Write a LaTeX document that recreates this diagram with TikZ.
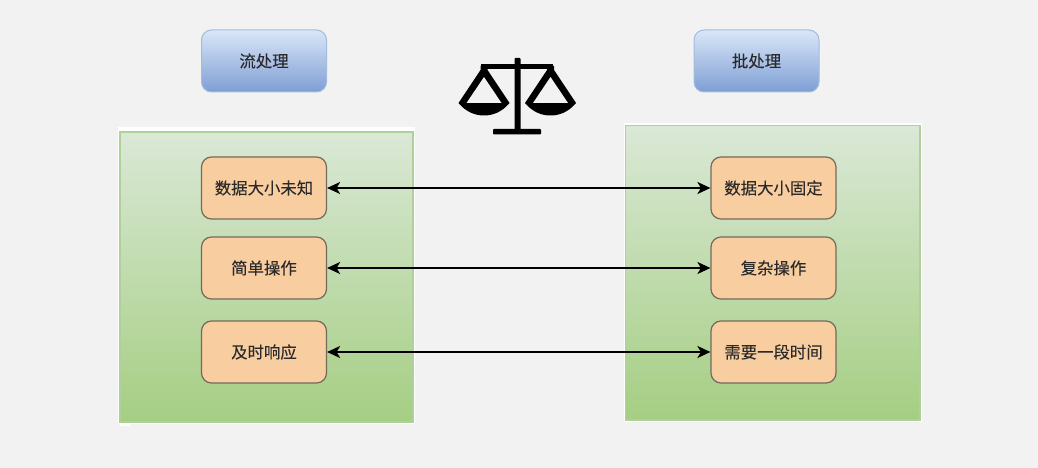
\documentclass[tikz,border=0pt]{standalone}
\usepackage{fontspec}
\setmainfont[FakeBold=0.08]{Noto Sans CJK SC}
\usetikzlibrary{arrows.meta}
\definecolor{pagebg}{HTML}{F2F2F2}
\definecolor{ink}{HTML}{2A2A2A}
\definecolor{green1}{HTML}{DAE8D6}
\definecolor{green2}{HTML}{A5CE83}
\definecolor{green3}{HTML}{B0D09A}
\definecolor{blue1}{HTML}{DAE6F8}
\definecolor{blue2}{HTML}{7E9FD4}
\definecolor{blue3}{HTML}{A3BBDD}
\definecolor{orangefill}{HTML}{F8CDA0}
\definecolor{orangeline}{HTML}{746A5C}
\tikzset{
  x=1pt,y=-1pt,
  greenfill/.style={top color=green1,bottom color=green2,draw=green3,line width=1.2pt},
  titlebox/.style={rounded corners=10pt,top color=blue1,bottom color=blue2,draw=blue3,line width=1pt,minimum width=125pt,minimum height=62pt,inner sep=0pt,font=\fontsize{16.4pt}{19pt}\selectfont,text=ink},
  itembox/.style={rounded corners=10pt,fill=orangefill,draw=orangeline,line width=1.2pt,minimum width=125pt,minimum height=62pt,inner sep=0pt,font=\fontsize{16.4pt}{19pt}\selectfont,text=ink},
  link/.style={{Stealth[length=13pt,width=12pt,inset=3.5pt]}-{Stealth[length=13pt,width=12pt,inset=3.5pt]},line width=2pt,black},
}
\begin{document}
\begin{tikzpicture}
\useasboundingbox (0,0) rectangle (1038,468);
\fill[pagebg] (0,0) rectangle (1038,468);
% panels
\fill[white] (118,127) rectangle (415,424);
\fill[white] (120,422) rectangle (130,425.5);
\fill[white] (624,123.5) rectangle (922,421.5);
\shade[greenfill] (120,132) rectangle (413,422);
\shade[greenfill] (625.5,125.5) rectangle (920,420);
% titles
\node[titlebox] (t1) at (264,61) {流处理};
\node[titlebox] (t2) at (756.5,61) {批处理};
% items
\node[itembox] (a1) at (264,188) {数据大小未知};
\node[itembox] (a2) at (264,268) {简单操作};
\node[itembox] (a3) at (264,352) {及时响应};
\node[itembox] (b1) at (773.5,188) {数据大小固定};
\node[itembox] (b2) at (773.5,268) {复杂操作};
\node[itembox] (b3) at (773.5,352) {需要一段时间};
\draw[link] (a1) -- (b1);
\draw[link] (a2) -- (b2);
\draw[link] (a3) -- (b3);
% balance icon
\fill[black,rounded corners=.8pt] (514.5,58) rectangle (520.5,130);
\fill[black] (481,64) rectangle (553,69.5);
\fill[black,rounded corners=.8pt] (493,129) rectangle (541,134.5);
\foreach \c in {484,550.5}{
  \fill[black]
    (\c-3.5,66) -- (\c+3.5,66) -- (\c+3.5,70) -- (\c+25.5,103)
    .. controls (\c+18,112) and (\c+9,115.5) .. (\c,115.5)
    .. controls (\c-9,115.5) and (\c-18,112) .. (\c-25.5,103) -- (\c-3.5,70) -- cycle;
  \fill[pagebg] (\c,77) -- (\c+17.5,103) -- (\c-17.5,103) -- cycle;
}
\end{tikzpicture}
\end{document}
